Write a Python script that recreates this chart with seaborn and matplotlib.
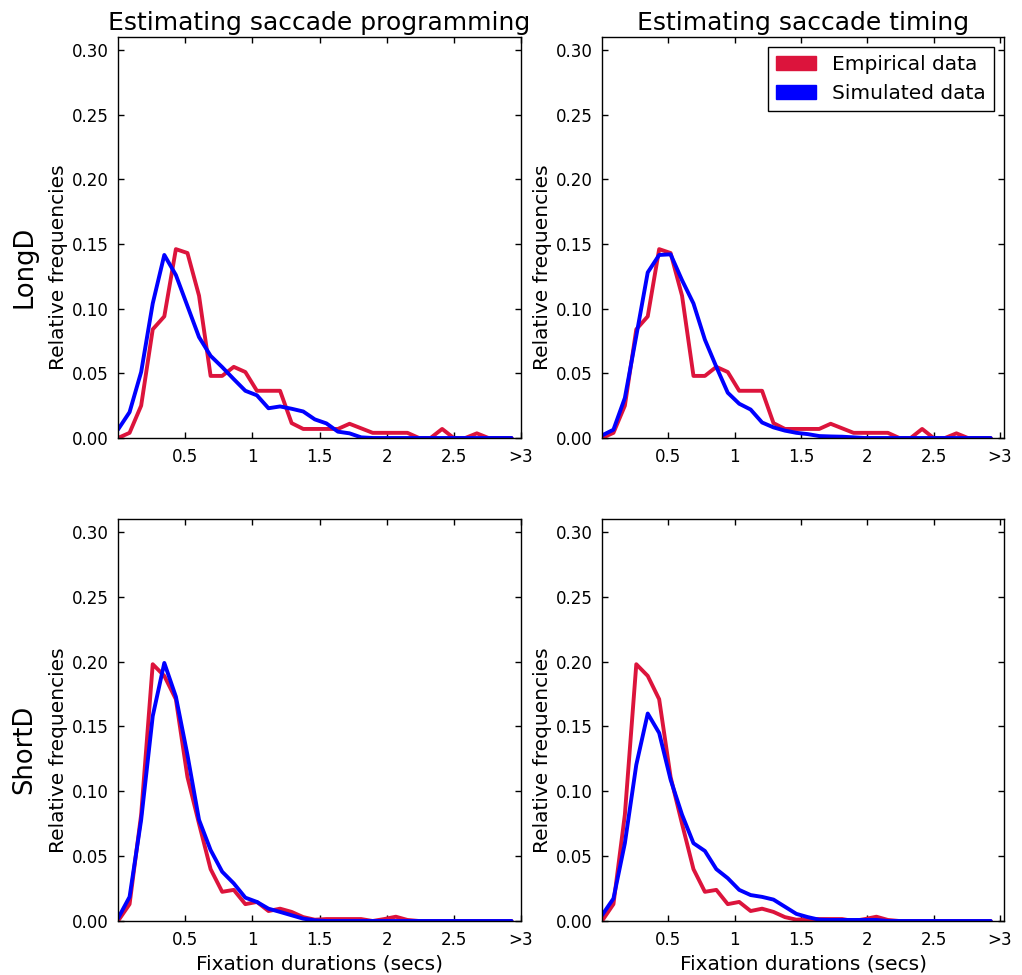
import numpy as np
import pandas as pd
import matplotlib
matplotlib.use("Agg")
import matplotlib.pyplot as plt
from matplotlib.patches import Patch
import seaborn as sns

# ---------------- data ----------------
# bin positions (secs); last bin collects everything > 3 s
bins = np.linspace(0.0, 2.93, 35)

col_titles = ["Estimating saccade programming", "Estimating saccade timing"]
row_labels = ["LongD", "ShortD"]
series_names = ["Empirical data", "Simulated data"]
xtick_vals = [0.5, 1.0, 1.5, 2.0, 2.5, 3.0]
xtick_labels = ["0.5", "1", "1.5", "2", "2.5", ">3"]
ytick_vals = [0.00, 0.05, 0.10, 0.15, 0.20, 0.25, 0.30]

emp_long = [0.000, 0.004, 0.025, 0.084, 0.094, 0.146, 0.143, 0.110, 0.048, 0.048,
            0.055, 0.051, 0.0365, 0.0365, 0.0365, 0.0115, 0.007, 0.007, 0.007, 0.007,
            0.011, 0.0075, 0.004, 0.004, 0.004, 0.004, 0.000, 0.000, 0.007, 0.000,
            0.000, 0.0036, 0.000, 0.000, 0.000]

sim_long_prog = [0.0065, 0.020, 0.051, 0.104, 0.1415, 0.126, 0.102, 0.078, 0.0635, 0.0548,
                 0.0455, 0.0365, 0.033, 0.023, 0.0244, 0.0226, 0.0205, 0.0144, 0.0113, 0.0049,
                 0.0036, 0.0005, 0.000, 0.000, 0.000, 0.000, 0.000, 0.000, 0.000, 0.000,
                 0.000, 0.000, 0.000, 0.000, 0.000]

sim_long_tim = [0.002, 0.0064, 0.031, 0.079, 0.128, 0.1415, 0.142, 0.122, 0.104, 0.076,
                0.055, 0.035, 0.0265, 0.022, 0.012, 0.0082, 0.0057, 0.004, 0.003, 0.0015,
                0.0012, 0.001, 0.0005, 0.000, 0.000, 0.000, 0.000, 0.000, 0.000, 0.000,
                0.000, 0.000, 0.000, 0.000, 0.000]

emp_short = [0.000, 0.013, 0.082, 0.198, 0.189, 0.171, 0.111, 0.075, 0.040, 0.0225,
             0.024, 0.013, 0.0147, 0.0077, 0.0095, 0.007, 0.003, 0.001, 0.0015, 0.0015,
             0.0015, 0.0015, 0.000, 0.0015, 0.0033, 0.0008, 0.000, 0.000, 0.000, 0.000,
             0.000, 0.000, 0.000, 0.000, 0.000]

sim_short_prog = [0.002, 0.0186, 0.078, 0.158, 0.199, 0.173, 0.128, 0.078, 0.0547, 0.038,
                  0.029, 0.018, 0.0147, 0.0095, 0.007, 0.0044, 0.0018, 0.0005, 0.000, 0.000,
                  0.000, 0.000, 0.000, 0.000, 0.000, 0.000, 0.000, 0.000, 0.000, 0.000,
                  0.000, 0.000, 0.000, 0.000, 0.000]

sim_short_tim = [0.0044, 0.0173, 0.060, 0.1205, 0.160, 0.145, 0.109, 0.082, 0.060, 0.054,
                 0.040, 0.033, 0.024, 0.020, 0.0186, 0.0165, 0.011, 0.0055, 0.003, 0.001,
                 0.0008, 0.0008, 0.0008, 0.0008, 0.0008, 0.000, 0.000, 0.000, 0.000, 0.000,
                 0.000, 0.000, 0.000, 0.000, 0.000]

panels = {
    (0, 0): (emp_long, sim_long_prog),
    (0, 1): (emp_long, sim_long_tim),
    (1, 0): (emp_short, sim_short_prog),
    (1, 1): (emp_short, sim_short_tim),
}

palette = {"Empirical data": "#DC143C", "Simulated data": "#0000FF"}

# ---------------- style ----------------
sns.set_theme(style="white")
plt.rcParams.update({
    "font.family": ["DejaVu Sans"],
    "axes.edgecolor": "black",
    "axes.linewidth": 1.0,
    "xtick.direction": "in",
    "ytick.direction": "in",
    "xtick.top": True,
    "ytick.right": True,
    "xtick.bottom": True,
    "ytick.left": True,
    "xtick.major.size": 4.5,
    "ytick.major.size": 4.5,
    "xtick.major.width": 1.0,
    "ytick.major.width": 1.0,
    "xtick.color": "black",
    "ytick.color": "black",
    "xtick.labelsize": 12,
    "ytick.labelsize": 12,
    "xtick.major.pad": 7,
    "ytick.major.pad": 7,
    "text.color": "black",
    "axes.labelcolor": "black",
})

W, H = 1022, 975
fig = plt.figure(figsize=(W / 100, H / 100), dpi=100)
fig.patch.set_facecolor("white")

col_px = [(118, 521), (602, 1004)]
row_px = [(37, 438), (519, 921)]

axes = {}
for r in range(2):
    for c in range(2):
        x0, x1 = col_px[c]
        t, b = row_px[r]
        ax = fig.add_axes([x0 / W, 1 - b / H, (x1 - x0) / W, (b - t) / H])
        axes[(r, c)] = ax
        emp, sim = panels[(r, c)]
        df = pd.DataFrame({
            "x": np.concatenate([bins, bins]),
            "freq": np.concatenate([emp, sim]),
            "source": [series_names[0]] * len(bins) + [series_names[1]] * len(bins),
        })
        sns.lineplot(data=df, x="x", y="freq", hue="source", hue_order=series_names,
                     palette=palette, linewidth=2.8, legend=False, ax=ax,
                     estimator=None, sort=True)
        ax.set_xlim(0, 3.0 if c == 0 else 3.03)
        ax.set_ylim(0, 0.31)
        ax.set_xticks(xtick_vals)
        ax.set_xticklabels(xtick_labels)
        ax.set_yticks(ytick_vals)
        ax.set_yticklabels([f"{v:.2f}" for v in ytick_vals])
        for s in ax.spines.values():
            s.set_visible(True)
            s.set_color("black")
            s.set_linewidth(1.0)
        ax.set_ylabel("Relative frequencies", fontsize=14.5, va="center")
        ax.yaxis.set_label_coords(-0.148, 0.426)
        if r == 1:
            ax.set_xlabel("Fixation durations (secs)", fontsize=14.5, labelpad=4)
        else:
            ax.set_xlabel("")
        if r == 0:
            ax.set_title(col_titles[c], fontsize=18, pad=5)

# row labels
fig.text(24 / W, 1 - 266.5 / H, row_labels[0], rotation=90, fontsize=18.5,
         ha="center", va="center")
fig.text(24 / W, 1 - 749 / H, row_labels[1], rotation=90, fontsize=18.5,
         ha="center", va="center")

# legend
handles = [Patch(facecolor=palette[n], edgecolor=palette[n], label=n) for n in series_names]
leg = axes[(0, 1)].legend(handles=handles, loc="upper right", fontsize=14.5,
                          frameon=True, fancybox=False, shadow=False, framealpha=1,
                          edgecolor="black", borderaxespad=0.5)
leg.get_frame().set_linewidth(1.0)

fig.savefig("out.png", dpi=100, facecolor="white")
